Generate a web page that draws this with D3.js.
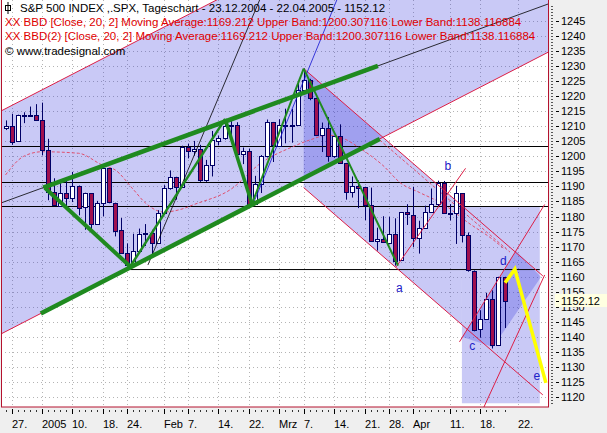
<!DOCTYPE html>
<html>
<head>
<meta charset="utf-8">
<script src="https://cdn.jsdelivr.net/npm/d3@7/dist/d3.min.js"></script>
<style>
  html, body { margin: 0; padding: 0; background: #efefef; }
  svg { display: block; font-family: "Liberation Sans", Arial, sans-serif; }
</style>
</head>
<body>
<svg id="chart" width="607" height="433"></svg>
<script>
//daily bars, S&P 500, 23.12.2004 - 22.04.2005
const days = ["12-23","12-27","12-28","12-29","12-30","12-31","01-03","01-04","01-05","01-06","01-07",
  "01-10","01-11","01-12","01-13","01-14","01-18","01-19","01-20","01-21","01-24","01-25","01-26","01-27","01-28",
  "01-31","02-01","02-02","02-03","02-04","02-07","02-08","02-09","02-10","02-11","02-14","02-15","02-16","02-17","02-18",
  "02-22","02-23","02-24","02-25","02-28","03-01","03-02","03-03","03-04","03-07","03-08","03-09","03-10","03-11",
  "03-14","03-15","03-16","03-17","03-18","03-21","03-22","03-23","03-24","03-28","03-29","03-30","03-31","04-01",
  "04-04","04-05","04-06","04-07","04-08","04-11","04-12","04-13","04-14","04-15","04-18","04-19","04-20","04-21","04-22"]

const close = [1210.13,1204.92,1213.54,1213.45,1213.55,1211.92,1202.08,1188.05,1183.74,1187.89,1186.19,
  1190.25,1182.99,1187.70,1177.45,1184.52,1195.98,1184.63,1175.41,1167.87,1163.75,1168.41,1174.07,1174.55,1171.36,
  1181.27,1189.41,1193.19,1189.89,1203.03,1201.72,1202.30,1191.99,1197.01,1205.30,1206.14,1210.12,1210.34,1200.75,1201.59,
  1184.16,1190.80,1200.20,1211.37,1203.60,1210.41,1210.08,1210.47,1222.12,1225.31,1219.43,1207.01,1209.25,1200.08,
  1206.83,1197.75,1188.07,1190.21,1189.65,1183.78,1171.71,1172.53,1171.42,1174.28,1165.36,1181.41,1180.59,1172.92,
  1176.12,1181.39,1184.07,1191.14,1181.20,1181.21,1187.76,1173.79,1162.05,1142.62,1145.98,1152.78,1137.50,1159.95,1152.12]

const open = [1209.57,1210.13,1204.92,1213.54,1213.45,1213.55,1211.92,1202.08,1188.05,1183.74,1187.89,
  1186.19,1190.25,1182.99,1187.70,1177.45,1184.52,1195.98,1184.63,1175.41,1167.87,1163.75,1168.41,1174.07,1174.55,
  1171.36,1181.27,1189.41,1193.19,1189.89,1203.03,1201.72,1202.30,1191.99,1197.01,1205.30,1206.14,1210.12,1210.34,1200.75,
  1201.59,1184.16,1190.80,1200.20,1211.37,1203.60,1210.41,1210.08,1210.47,1222.12,1225.31,1219.43,1207.01,1209.25,
  1200.08,1206.83,1197.75,1188.07,1190.21,1189.65,1183.78,1171.71,1172.53,1171.42,1174.28,1165.36,1181.41,1180.59,
  1172.79,1176.12,1181.39,1184.07,1191.14,1181.20,1181.21,1187.76,1173.79,1162.05,1142.62,1145.98,1152.78,1137.50,1159.95]

const high = [1211.9,1214.1,1213.8,1214.6,1216.5,1217.3,1217.8,1205.8,1192.7,1191.6,1192.2,
  1194.8,1190.3,1187.9,1187.8,1185.2,1196.0,1196.0,1184.6,1179.5,1171.1,1174.3,1176.0,1177.5,1175.6,
  1182.1,1190.4,1195.3,1193.2,1203.5,1204.2,1205.1,1203.8,1198.8,1208.4,1206.9,1212.4,1212.4,1211.3,1202.9,
  1202.5,1193.5,1200.4,1212.2,1211.4,1212.3,1215.8,1215.7,1224.8,1229.1,1225.7,1219.4,1211.2,1213.0,
  1206.8,1210.6,1197.8,1193.3,1192.0,1189.7,1189.6,1176.3,1180.1,1179.9,1179.4,1181.5,1184.1,1189.8,
  1178.6,1183.6,1189.3,1191.9,1191.8,1184.1,1190.2,1187.8,1174.7,1162.1,1148.9,1154.7,1155.5,1160.0,1160.0]

const low = [1208.7,1203.8,1204.9,1211.0,1213.4,1211.7,1200.3,1185.4,1183.7,1183.3,1182.2,
  1184.8,1180.4,1175.6,1175.8,1177.5,1180.1,1184.4,1173.4,1167.8,1163.4,1163.8,1168.4,1170.2,1166.3,
  1171.4,1181.0,1188.9,1185.6,1189.7,1199.3,1200.2,1191.5,1191.5,1193.3,1203.6,1205.5,1205.1,1200.7,1197.4,
  1184.2,1184.2,1187.8,1199.6,1198.1,1203.6,1204.3,1204.5,1210.5,1222.1,1218.6,1206.7,1201.4,1198.2,
  1199.5,1197.8,1185.6,1186.3,1182.8,1178.8,1171.6,1168.7,1171.4,1171.4,1163.7,1165.4,1177.2,1169.9,
  1167.7,1176.1,1181.4,1183.4,1181.1,1178.7,1170.9,1171.4,1161.7,1141.9,1139.8,1146.0,1136.2,1137.5,1143.0]

//20 day moving average (bar index, value)
const maIdx = [0,3,6,12,16,18,21,23,26,29,31,37,42,47,50,53,56,58,62,65,68,72,76,80,82]
const maVal = [1193.8,1200.0,1201.5,1201.0,1197.0,1195.5,1189.0,1184.5,1181.5,1182.5,1184.0,1189.0,1197.8,
  1203.0,1205.4,1207.0,1205.5,1203.0,1197.0,1191.0,1188.0,1184.0,1178.0,1172.5,1169.2]

//axis labels
const priceTicks = d3.range(1120, 1246, 5)
const lastPrice = 1152.12
const xLabelIdx = [1,6,11,16,20,26,30,35,40,45,49,54,59,63,67,73,78,84.2]
const xLabelText = ["27.","2005","10.","18.","24.","Feb","7.","14.","22.","Mrz","7.","14.","21.","28.","Apr","11.","18.","22."]

//drawn objects (bar index, price)
const hLevels = [1203.4, 1191.5, 1183.5]
const hLevelShort = [[20.5, 1162.4], [87.8, 1162.4]]
const upTrend = [[6.2, 1189.6], [61.2, 1230.0]]
const lowTrend = [[20, 1162.6], [40, 1183.4]]
const zigzag = [[6.5, 1189.5], [20.5, 1163.4], [36.1, 1212.4], [40.5, 1184.2], [49, 1229.1], [64.5, 1163.7]]
const zigWidth = [4, 2.5, 3.5, 2, 2]
const steepLine = [[23.4, 1163.9], [44.5, 1265]]
const blueLine = [[40.5, 1183.2], [56.5, 1262]]
const fallTop = [[49, 1229.1], [88.3, 1160.3]]
const fallBottom = [[49, 1189.6], [88.3, 1120.8]]
const abLine = [[64.2, 1163.3], [75.6, 1196.0]]
const fallDash = [[61.5, 1205.4], [82.9, 1168.2]]
const stripBox = [[75, 1183.5], [87.8, 1118]]
const cdBox = [[75.1, 1140.0], [80.1, 1136.7], [88.0, 1159.9], [83.9, 1168.6]]
const cdLeft = [[74.6, 1138.4], [88.6, 1184.0]]
const cdRight = [[74.8, 1100.0], [88.6, 1160.6]]
const yellowPath = [[82.1, 1158.0], [83.7, 1162.6], [88.8, 1124.8]]
const marks = [["a", 64.7, 1156.4], ["b", 72.7, 1196.7], ["c", 76.7, 1137.0], ["d", 81.8, 1165.2], ["e", 87.3, 1127.1]]

const svg = d3.select("#chart")
const plot = {left: 1, top: 0, right: 549, bottom: 407}

const x = d3.scaleLinear().domain([0, 82]).range([5.5, 504.5])
const y = d3.scaleLinear().domain([1120, 1245]).range([397.3, 20.7])

//extend a line through two points to bar index i
const along = (p, i) => p[0][1] + (p[1][1] - p[0][1]) * (i - p[0][0]) / (p[1][0] - p[0][0])
const lowAt = i => along(lowTrend, i)
const chanWidth = 74
const upAt = i => along(upTrend, i)

const line = d3.line().x(d => x(d[0])).y(d => y(d[1]))

svg.append("defs").append("clipPath").attr("id", "clip")
  .append("rect").attr("x", plot.left).attr("y", plot.top)
  .attr("width", plot.right - plot.left).attr("height", plot.bottom - plot.top)

svg.append("rect").attr("x", plot.left).attr("y", plot.top)
  .attr("width", plot.right - plot.left).attr("height", plot.bottom - plot.top).attr("fill", "#fff")

const g = svg.append("g").attr("clip-path", "url(#clip)")

//dotted grid
g.selectAll(".hg").data(priceTicks).enter().append("line")
  .attr("x1", plot.left).attr("x2", plot.right)
  .attr("y1", d => Math.round(y(d)) + 0.5).attr("y2", d => Math.round(y(d)) + 0.5)
  .attr("stroke", "#b4b4b4").attr("stroke-dasharray", "1,3")
g.selectAll(".vg").data(xLabelIdx).enter().append("line")
  .attr("x1", d => Math.round(x(d)) + 0.5).attr("x2", d => Math.round(x(d)) + 0.5)
  .attr("y1", plot.top).attr("y2", plot.bottom)
  .attr("stroke", "#b4b4b4").attr("stroke-dasharray", "1,3")

//shaded channels
const shade = pts => g.append("path").attr("d", line(pts) + "Z")
  .attr("fill", "#2828dc").attr("fill-opacity", 0.25)

shade([[-5, lowAt(-5)], [95, lowAt(95)], [95, lowAt(95) + chanWidth], [-5, lowAt(-5) + chanWidth]])
shade([[49, along(fallTop, 49)], [75, along(fallTop, 75)], [75, along(fallBottom, 75)], [49, along(fallBottom, 49)]])
shade([[stripBox[0][0], stripBox[0][1]], [stripBox[1][0], stripBox[0][1]], [stripBox[1][0], stripBox[1][1]], [stripBox[0][0], stripBox[1][1]]])
shade(cdBox)

//horizontal levels
g.selectAll(".lvl").data(hLevels).enter().append("line")
  .attr("x1", plot.left).attr("x2", plot.right)
  .attr("y1", d => Math.round(y(d)) + 0.5).attr("y2", d => Math.round(y(d)) + 0.5)
  .attr("stroke", "#000")
g.append("path").attr("d", line(hLevelShort)).attr("stroke", "#000").attr("fill", "none")

//moving average
g.append("path")
  .attr("d", d3.line().x(d => x(d[0])).y(d => y(d[1])).curve(d3.curveMonotoneX)(maIdx.map((d, i) => [d, maVal[i]])))
  .attr("fill", "none").attr("stroke", "#e0506e").attr("stroke-dasharray", "3,2")
g.append("path").attr("d", line(fallDash))
  .attr("fill", "none").attr("stroke", "#e0506e").attr("stroke-dasharray", "3,2")

//candles
const bars = d3.range(days.length)
const bw = 4
g.selectAll(".wick").data(bars).enter().append("line")
  .attr("x1", i => Math.round(x(i)) + 0.5).attr("x2", i => Math.round(x(i)) + 0.5)
  .attr("y1", i => y(high[i])).attr("y2", i => y(low[i]))
  .attr("stroke", "#000066")
g.selectAll(".body").data(bars).enter().append("rect")
  .attr("x", i => Math.round(x(i)) - bw / 2 + 0.5)
  .attr("y", i => Math.round(y(Math.max(open[i], close[i]))) + 0.5)
  .attr("width", bw)
  .attr("height", i => Math.max(1, Math.round(Math.abs(y(open[i]) - y(close[i])))))
  .attr("fill", i => close[i] < open[i] ? "#a0104e" : "#fff")
  .attr("stroke", "#000066")

//red channel borders
const redLine = pts => g.append("path").attr("d", line(pts))
  .attr("fill", "none").attr("stroke", "#dc1e46").attr("stroke-width", 1)
redLine([[-5, lowAt(-5)], [95, lowAt(95)]])
redLine([[-5, lowAt(-5) + chanWidth], [95, lowAt(95) + chanWidth]])
redLine(fallTop)
redLine(fallBottom)
redLine(abLine)
redLine(cdLeft)
redLine(cdRight)

//thin trend lines
g.append("path").attr("d", line([[-5, upAt(-5)], [95, upAt(95)]]))
  .attr("fill", "none").attr("stroke", "#000").attr("stroke-width", 0.8)
g.append("path").attr("d", line(steepLine)).attr("fill", "none").attr("stroke", "#000").attr("stroke-width", 0.8)
g.append("path").attr("d", line(blueLine)).attr("fill", "none").attr("stroke", "#1010d0").attr("stroke-width", 0.8)

//green channel and zigzag
const green = "#1f8a1f"
g.append("path").attr("d", line(upTrend)).attr("stroke", green).attr("stroke-width", 4.5).attr("fill", "none")
g.append("path").attr("d", line([[5.8, lowAt(5.8)], [61.5, lowAt(61.5)]]))
  .attr("stroke", green).attr("stroke-width", 4.5).attr("fill", "none")
zigzag.slice(1).forEach((p, i) => {
  g.append("path").attr("d", line([zigzag[i], p]))
    .attr("stroke", green).attr("stroke-width", zigWidth[i]).attr("fill", "none")
})

//yellow projection
g.append("path").attr("d", line(yellowPath))
  .attr("fill", "none").attr("stroke", "#ffff00").attr("stroke-width", 3.5)

//wave letters
g.selectAll(".mark").data(marks).enter().append("text")
  .attr("x", d => x(d[1])).attr("y", d => y(d[2]))
  .attr("text-anchor", "middle").attr("dominant-baseline", "central")
  .attr("fill", "#2020c8").attr("font-size", 12).text(d => d[0])

//frame
svg.append("rect").attr("x", plot.left + 0.5).attr("y", plot.top - 0.5)
  .attr("width", plot.right - plot.left - 1).attr("height", plot.bottom - plot.top + 0.5)
  .attr("fill", "none").attr("stroke", "#b4122e")

//price axis
const ax = svg.append("g").attr("font-size", 11)
ax.selectAll(".mt").data(d3.range(1118, 1251, 1)).enter().append("line")
  .attr("x1", plot.right + 2).attr("x2", plot.right + 4)
  .attr("y1", d => Math.round(y(d)) + 0.5).attr("y2", d => Math.round(y(d)) + 0.5)
  .attr("stroke", "#555")
ax.selectAll(".pt").data(priceTicks).enter().append("line")
  .attr("x1", 556).attr("x2", 559)
  .attr("y1", d => Math.round(y(d)) + 0.5).attr("y2", d => Math.round(y(d)) + 0.5)
  .attr("stroke", "#000")
ax.selectAll(".pl").data(priceTicks).enter().append("text")
  .attr("x", 561).attr("y", d => y(d)).attr("dominant-baseline", "central")
  .attr("fill", "#000").text(d => d)
ax.append("rect").attr("x", 555).attr("y", y(lastPrice) - 6.5).attr("width", 52).attr("height", 13)
  .attr("fill", "#ffffe1")
ax.append("line").attr("x1", 556).attr("x2", 559)
  .attr("y1", Math.round(y(lastPrice)) + 0.5).attr("y2", Math.round(y(lastPrice)) + 0.5).attr("stroke", "#000")
ax.append("text").attr("x", 561).attr("y", y(lastPrice)).attr("dominant-baseline", "central")
  .text(lastPrice.toFixed(2))

//time axis
const tx = svg.append("g").attr("font-size", 11)
tx.selectAll(".dt").data(bars).enter().append("line")
  .attr("x1", i => Math.round(x(i)) + 0.5).attr("x2", i => Math.round(x(i)) + 0.5)
  .attr("y1", plot.bottom + 3).attr("y2", plot.bottom + 5).attr("stroke", "#333")
tx.selectAll(".mj").data(xLabelIdx.filter(d => d <= 82)).enter().append("line")
  .attr("x1", d => Math.round(x(d)) + 0.5).attr("x2", d => Math.round(x(d)) + 0.5)
  .attr("y1", plot.bottom + 2).attr("y2", plot.bottom + 7).attr("stroke", "#000")
tx.selectAll(".xl").data(xLabelIdx).enter().append("text")
  .attr("x", d => Math.round(x(d))).attr("y", 428)
  .attr("fill", "#000").text((d, i) => xLabelText[i])

//header
const hd = svg.append("g").attr("font-size", 11.5)
hd.append("rect").attr("x", 5.5).attr("y", 5.5).attr("width", 5).attr("height", 5).attr("fill", "none").attr("stroke", "#000")
hd.append("line").attr("x1", 8).attr("x2", 8).attr("y1", 2).attr("y2", 14).attr("stroke", "#000")
hd.append("text").attr("x", 20).attr("y", 12).attr("fill", "#000")
  .text("S&P 500 INDEX ,.SPX, Tageschart - 23.12.2004 - 22.04.2005 - 1152.12")
hd.append("text").attr("x", 5).attr("y", 26).attr("fill", "#e00000")
  .text("XX BBD [Close, 20, 2] Moving Average:1169.212 Upper Band:1200.307116 Lower Band:1138.116884")
hd.append("text").attr("x", 5).attr("y", 39.5).attr("fill", "#e00000")
  .text("XX BBD(2) [Close, 20, 2] Moving Average:1169.212 Upper Band:1200.307116 Lower Band:1138.116884")
hd.append("text").attr("x", 5).attr("y", 55).attr("fill", "#000")
  .text("\u00a9 www.tradesignal.com")
</script>
</body>
</html>
